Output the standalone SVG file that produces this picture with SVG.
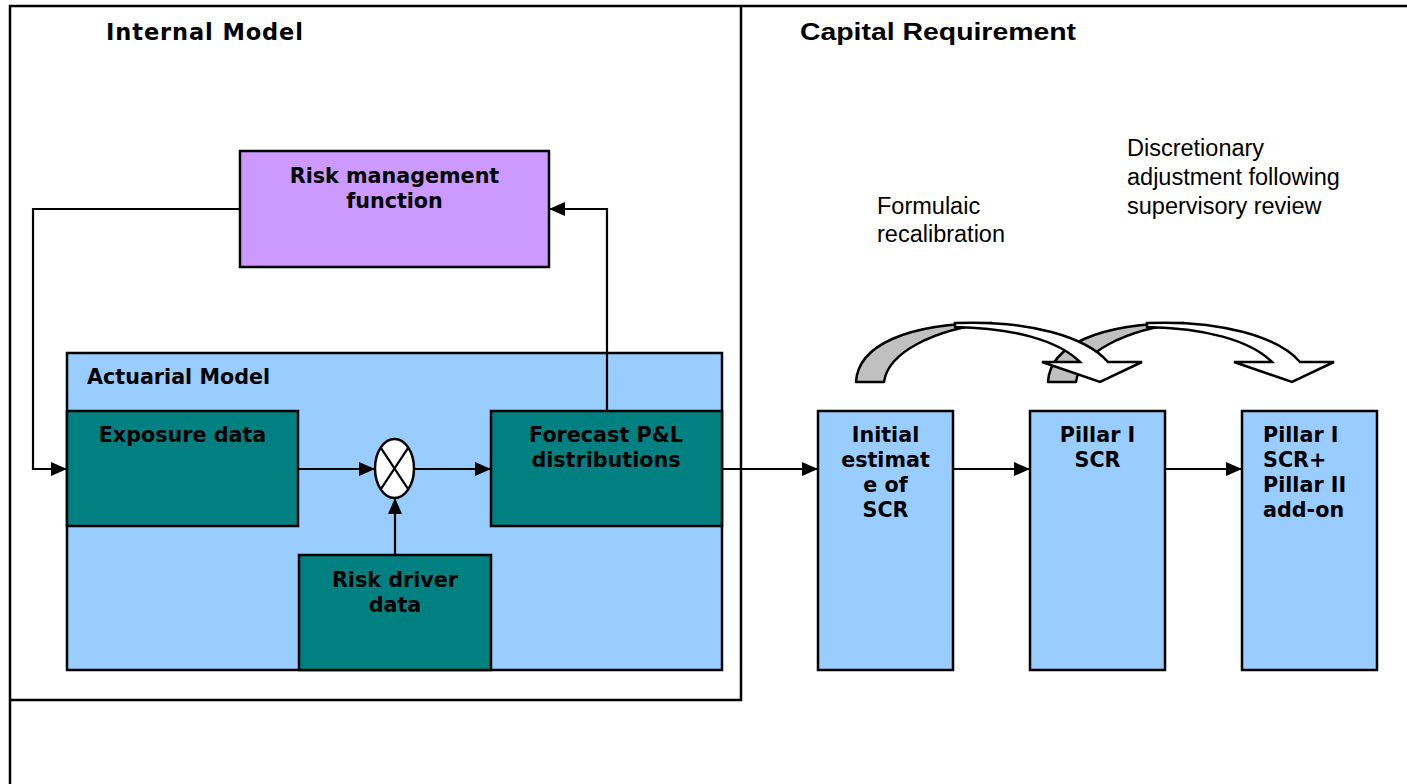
<svg xmlns="http://www.w3.org/2000/svg" width="1407" height="784" viewBox="0 0 1407 784">
<style>
.frame{fill:none;stroke:#000;stroke-width:2.5}
.box{stroke:#000;stroke-width:2.5}
.purple{fill:#CC99FF}
.blue{fill:#99CCFF}
.teal{fill:#008080}
.lbl{font-family:"DejaVu Sans",Verdana,sans-serif;font-weight:bold;font-size:20.7px;fill:#000}
.mid{text-anchor:middle}
.note{font-family:"Liberation Sans",Arial,sans-serif;font-size:23.5px;fill:#000}
.title1{font-family:"DejaVu Sans",Verdana,sans-serif;font-weight:bold;font-size:22.5px;fill:#000}
.title2{font-family:"Liberation Sans",Arial,sans-serif;font-weight:bold;font-size:23px;fill:#000}
.conn{fill:none;stroke:#000;stroke-width:2.2}
.back{fill:#C0C0C0;stroke:#000;stroke-width:2.5;stroke-linejoin:round}
.front{fill:#fff;stroke:#000;stroke-width:2.5;stroke-linejoin:miter}
</style>
<defs>
<marker id="ah" markerUnits="userSpaceOnUse" markerWidth="16" markerHeight="14" refX="16" refY="7" orient="auto">
<path d="M0,0 L16,7 L0,14 Z" fill="#000"/>
</marker>
<g id="curved">
<path class="back" d="M856,382 C858,346 905,323 992,323 C935,329 888,352 884,382 Z"/>
<path class="front" d="M955,323 C1030,320 1086,337 1108,362 L1142,362 L1100,382 L1042,362 L1080,362 C1058,340 1012,328 955,327 Z"/>
</g>
</defs>
<rect width="1407" height="784" fill="#fff"/>
<g id="frames">
<path class="frame" d="M10,784 L10,6 L1407,6"/>
<path class="frame" d="M741,6 L741,700 L10,700"/>
</g>
<g id="titles">
<text class="title1" x="106" y="40" textLength="197" lengthAdjust="spacing">Internal Model</text>
<text class="title2" x="800" y="40" textLength="276" lengthAdjust="spacingAndGlyphs">Capital Requirement</text>
</g>
<g id="actuarial-model">
<rect class="box blue" x="67" y="353" width="655" height="317"/>
<text class="lbl" x="87" y="384">Actuarial Model</text>
</g>
<g id="risk-management">
<rect class="box purple" x="240" y="151" width="309" height="116"/>
<text class="lbl mid" x="394.5" y="183">Risk management</text>
<text class="lbl mid" x="394.5" y="208">function</text>
</g>
<g id="exposure-data">
<rect class="box teal" x="67" y="411" width="231" height="115"/>
<text class="lbl mid" x="182.5" y="442">Exposure data</text>
</g>
<g id="forecast">
<rect class="box teal" x="491" y="411" width="231" height="115"/>
<text class="lbl mid" x="606" y="442">Forecast P&amp;L</text>
<text class="lbl mid" x="606" y="467">distributions</text>
</g>
<g id="risk-driver">
<rect class="box teal" x="299" y="555" width="192" height="115"/>
<text class="lbl mid" x="395" y="587">Risk driver</text>
<text class="lbl mid" x="395" y="612">data</text>
</g>
<g id="multiplier">
<ellipse cx="394.5" cy="468.5" rx="19.5" ry="29.5" fill="#fff" stroke="#000" stroke-width="2.5"/>
<path d="M380.7,447.6 L408.3,489.4 M408.3,447.6 L380.7,489.4" stroke="#000" stroke-width="2.2"/>
</g>
<g id="initial-estimate">
<rect class="box blue" x="818" y="411" width="135" height="259"/>
<text class="lbl mid" x="885.5" y="442">Initial</text>
<text class="lbl mid" x="885.5" y="467">estimat</text>
<text class="lbl mid" x="885.5" y="492">e of</text>
<text class="lbl mid" x="885.5" y="517">SCR</text>
</g>
<g id="pillar1">
<rect class="box blue" x="1030" y="411" width="135" height="259"/>
<text class="lbl mid" x="1097.5" y="442">Pillar I</text>
<text class="lbl mid" x="1097.5" y="467">SCR</text>
</g>
<g id="pillar2">
<rect class="box blue" x="1242" y="411" width="135" height="259"/>
<text class="lbl" x="1263" y="442">Pillar I</text>
<text class="lbl" x="1263" y="467">SCR+</text>
<text class="lbl" x="1263" y="492">Pillar II</text>
<text class="lbl" x="1263" y="517">add-on</text>
</g>
<g id="notes">
<text class="note" x="877" y="214">Formulaic</text>
<text class="note" x="877" y="242">recalibration</text>
<text class="note" x="1127" y="156">Discretionary</text>
<text class="note" x="1127" y="185">adjustment following</text>
<text class="note" x="1127" y="214">supervisory review</text>
</g>
<g id="connectors">
<path class="conn" d="M298,469 L375,469" marker-end="url(#ah)"/>
<path class="conn" d="M414,469 L491,469" marker-end="url(#ah)"/>
<path class="conn" d="M395,555 L395,498" marker-end="url(#ah)"/>
<path class="conn" d="M607,411 L607,209 L549,209" marker-end="url(#ah)"/>
<path class="conn" d="M240,209 L33,209 L33,469 L67,469" marker-end="url(#ah)"/>
<path class="conn" d="M722,469 L818,469" marker-end="url(#ah)"/>
<path class="conn" d="M953,469 L1030,469" marker-end="url(#ah)"/>
<path class="conn" d="M1165,469 L1242,469" marker-end="url(#ah)"/>
<use href="#curved" transform="translate(192,0)"/>
<use href="#curved"/>
</g>
</svg>
